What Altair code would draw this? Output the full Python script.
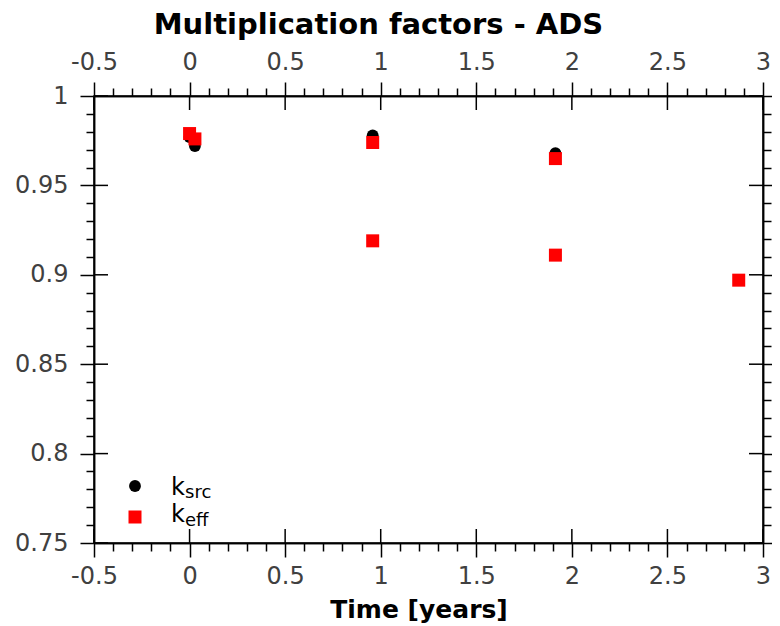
import altair as alt
import pandas as pd

# ---- data ----
ksrc_time = [0.0, 0.028, 0.958, 1.914]
ksrc_val = [0.977, 0.972, 0.978, 0.968]

keff_time = [0.0, 0.028, 0.958, 0.958, 1.914, 1.914, 2.873]
keff_val = [0.979, 0.976, 0.974, 0.919, 0.965, 0.911, 0.897]

x_major = [-0.5, 0, 0.5, 1, 1.5, 2, 2.5, 3]
y_major = [0.75, 0.8, 0.85, 0.9, 0.95, 1]
x_minor = [round(-0.5 + 0.1 * i, 2) for i in range(36) if i % 5 != 0]
y_minor = [round(0.75 + 0.01 * i, 2) for i in range(26) if i % 5 != 0]

W, H = 669, 447
FONT = "DejaVu Sans"
MAJ = 14
MIN = 8

df_src = pd.DataFrame({"t": ksrc_time, "k": ksrc_val})
df_eff = pd.DataFrame({"t": keff_time, "k": keff_val})
df_xm = pd.DataFrame({"t": x_major})
df_ym = pd.DataFrame({"k": y_major})
one = pd.DataFrame({"a": [0]})

xs = alt.Scale(domain=[-0.5, 3], nice=False, zero=False)
ys = alt.Scale(domain=[0.75, 1.0], nice=False, zero=False)

lab = "'' + datum.value"

common = dict(
    domainColor="black", domainWidth=1.5, tickColor="black", tickWidth=1.5,
    labelFont=FONT, labelFontSize=24, labelColor="#404040",
    grid=False, labelOverlap=False, labelFlush=False,
)

ax_bottom = alt.Axis(orient="bottom", values=x_major, labelExpr=lab, labelPadding=7,
                     tickSize=MAJ, title="Time [years]", titleFont=FONT, titleFontSize=25,
                     titleFontWeight="bold", titleColor="black", titlePadding=9,
                     titleX=W / 2 - 10, **common)
ax_top = alt.Axis(orient="top", values=x_major, labelExpr=lab, labelPadding=8,
                  tickSize=MAJ, title=None, **common)
ax_left = alt.Axis(orient="left", values=y_major, labelExpr=lab, labelPadding=12,
                   tickSize=MAJ, title=None, **common)
ax_right = alt.Axis(orient="right", values=y_major, labels=False, tickSize=MAJ,
                    title=None, **common)

ax_bottom_m = alt.Axis(orient="bottom", values=x_minor, labels=False, tickSize=MIN,
                       title=None, **common)
ax_top_m = alt.Axis(orient="top", values=x_minor, labels=False, tickSize=MIN,
                    title=None, **common)
ax_left_m = alt.Axis(orient="left", values=y_minor, labels=False, tickSize=MIN,
                     title=None, **common)
ax_right_m = alt.Axis(orient="right", values=y_minor, labels=False, tickSize=MIN,
                      title=None, **common)

src = alt.Chart(df_src).mark_circle(size=140, color="black", opacity=1).encode(
    x=alt.X("t:Q", scale=xs, axis=ax_bottom),
    y=alt.Y("k:Q", scale=ys, axis=ax_left),
)
minor1 = alt.Chart(df_src).mark_point(opacity=0).encode(
    x=alt.X("t:Q", scale=xs, axis=ax_bottom_m),
    y=alt.Y("k:Q", scale=ys, axis=ax_left_m),
)
top_right = alt.Chart(df_src).mark_point(opacity=0).encode(
    x=alt.X("t:Q", scale=xs, axis=ax_top),
    y=alt.Y("k:Q", scale=ys, axis=ax_right),
)
minor2 = alt.Chart(df_src).mark_point(opacity=0).encode(
    x=alt.X("t:Q", scale=xs, axis=ax_top_m),
    y=alt.Y("k:Q", scale=ys, axis=ax_right_m),
)
eff = alt.Chart(df_eff).mark_square(size=169, color="#ff0000", opacity=1).encode(
    x=alt.X("t:Q", scale=xs, axis=None),
    y=alt.Y("k:Q", scale=ys, axis=None),
)

rule_kw = dict(color="black", strokeWidth=1.5)
in_bottom = alt.Chart(df_xm).mark_rule(**rule_kw).encode(
    x=alt.X("t:Q", scale=xs, axis=None), y=alt.value(H), y2=alt.value(H - MAJ))
in_top = alt.Chart(df_xm).mark_rule(**rule_kw).encode(
    x=alt.X("t:Q", scale=xs, axis=None), y=alt.value(0), y2=alt.value(MAJ))
in_left = alt.Chart(df_ym).mark_rule(**rule_kw).encode(
    y=alt.Y("k:Q", scale=ys, axis=None), x=alt.value(0), x2=alt.value(MAJ))
in_right = alt.Chart(df_ym).mark_rule(**rule_kw).encode(
    y=alt.Y("k:Q", scale=ys, axis=None), x=alt.value(W - MAJ), x2=alt.value(W))

# legend (manual, to allow subscripts)
leg_c = alt.Chart(one).mark_circle(size=140, color="black", opacity=1).encode(
    x=alt.value(41), y=alt.value(390))
leg_s = alt.Chart(one).mark_square(size=169, color="#ff0000", opacity=1).encode(
    x=alt.value(41), y=alt.value(421))
leg_k1 = alt.Chart(one).mark_text(text="k", font=FONT, fontSize=24, align="left",
                                  baseline="alphabetic", color="black").encode(
    x=alt.value(77), y=alt.value(399))
leg_s1 = alt.Chart(one).mark_text(text="src", font=FONT, fontSize=18, align="left",
                                  baseline="alphabetic", color="black").encode(
    x=alt.value(91), y=alt.value(402))
leg_k2 = alt.Chart(one).mark_text(text="k", font=FONT, fontSize=24, align="left",
                                  baseline="alphabetic", color="black").encode(
    x=alt.value(77), y=alt.value(426))
leg_s2 = alt.Chart(one).mark_text(text="eff", font=FONT, fontSize=18, align="left",
                                  baseline="alphabetic", color="black").encode(
    x=alt.value(91), y=alt.value(430))

chart = alt.layer(
    src, minor1, top_right, minor2, eff, in_bottom, in_top, in_left, in_right,
    leg_c, leg_s, leg_k1, leg_s1, leg_k2, leg_s2,
).resolve_axis(x="independent", y="independent").properties(
    width=W, height=H,
    autosize=alt.AutoSizeParams(type="none"),
    padding={"left": 86, "top": 88, "right": 9, "bottom": 83},
    title=alt.TitleParams("Multiplication factors - ADS", font=FONT, fontSize=29,
                          fontWeight="bold", color="black", dx=-50, offset=10),
).configure_view(stroke="black", strokeWidth=1.5)

chart.save("out.html", embed_options={"renderer": "svg", "actions": False})
